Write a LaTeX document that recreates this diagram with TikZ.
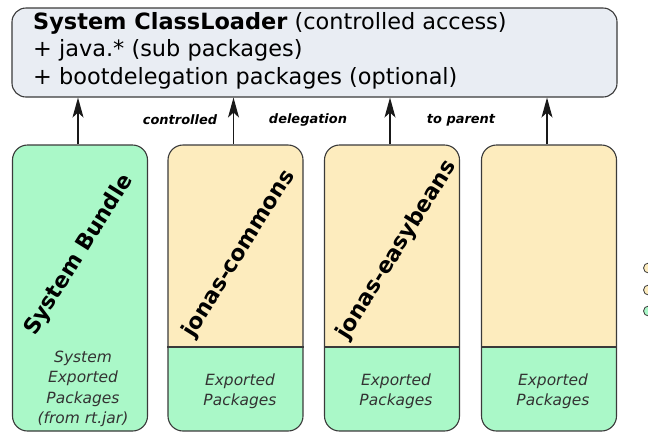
\documentclass[tikz,border=0pt]{standalone}
\usepackage{fontspec}
\setmainfont{DejaVu Sans}
\usetikzlibrary{arrows.meta}
\definecolor{topfill}{HTML}{E9EDF3}
\definecolor{greenc}{HTML}{AAF8C8}
\definecolor{yellowc}{HTML}{FDECBE}
\definecolor{edge}{HTML}{3A3A3A}
\begin{document}
\begin{tikzpicture}[x=1bp,y=-1bp,
  box/.style={draw=edge, line width=1.1bp, rounded corners=15bp, inner sep=0pt},
  colbox/.style={box, minimum width=135bp, minimum height=286bp},
  title/.style={font=\fontsize{22}{26}\selectfont\bfseries, rotate=58, inner sep=0pt},
  exp/.style={font=\fontsize{15.5}{20.5}\selectfont\itshape, align=center, text=black!80},
  lab/.style={font=\fontsize{13}{14}\selectfont\bfseries\itshape},
  arr/.style={-{Stealth[length=20bp,width=11bp,inset=5bp]}, line width=1.3bp, black!90},
  dot/.style={circle, draw=edge, line width=0.8bp, minimum size=10bp, inner sep=0pt}]
\useasboundingbox (0,0) rectangle (648,432);
% top box
\node[box, fill=topfill, rounded corners=14bp, minimum width=605bp, minimum height=89bp] (top) at (314.5,52.5) {};
\node[anchor=north west, align=left, inner sep=0pt, font=\fontsize{22.5}{27.5}\selectfont] (toptext) at (33,12)
  {\textbf{System ClassLoader} (controlled access)\\+ java.* (sub packages)\\+ bootdelegation packages (optional)};
% columns
\node[colbox, fill=greenc] (c1) at (80,288) {};
\foreach \n/\x in {c2/235.5,c3/392,c4/549}{
  \begin{scope}
    \clip[rounded corners=15bp] (\x-67.5,145) rectangle (\x+67.5,431);
    \fill[yellowc] (\x-67.5,145) rectangle (\x+67.5,347);
    \fill[greenc] (\x-67.5,347) rectangle (\x+67.5,431);
  \end{scope}
  \node[colbox] (\n) at (\x,288) {};
  \draw[edge, line width=1.1bp] (\n.west |- 0,347) -- (\n.east |- 0,347);
}
% titles
\node[title] (t1) at (79,255) {System Bundle};
\node[title] (t2) at (239,254) {jonas-commons};
\node[title] (t3) at (397,250) {jonas-easybeans};
% exported texts
\node[exp] (e1) at (83,389) {System\\Exported\\Packages\\(from rt.jar)};
\node[exp] (e2) at (240,391) {Exported\\Packages};
\node[exp] (e3) at (396,391) {Exported\\Packages};
\node[exp] (e4) at (553,391) {Exported\\Packages};
% arrows
\foreach \c in {c1,c2,c3,c4}
  \draw[arr] ([xshift=-2bp]\c.north) -- ([xshift=-2bp]\c.north |- top.south);
% labels
\node[lab] (l1) at (180,120) {controlled};
\node[lab] (l2) at (308,120) {delegation};
\node[lab] (l3) at (461,120) {to parent};
% legend dots (cut at edge)
\node[dot, fill=yellowc] (d1) at (648.5,268) {};
\node[dot, fill=yellowc] (d2) at (648.5,290) {};
\node[dot, fill=greenc] (d3) at (648.5,311) {};
\end{tikzpicture}
\end{document}
